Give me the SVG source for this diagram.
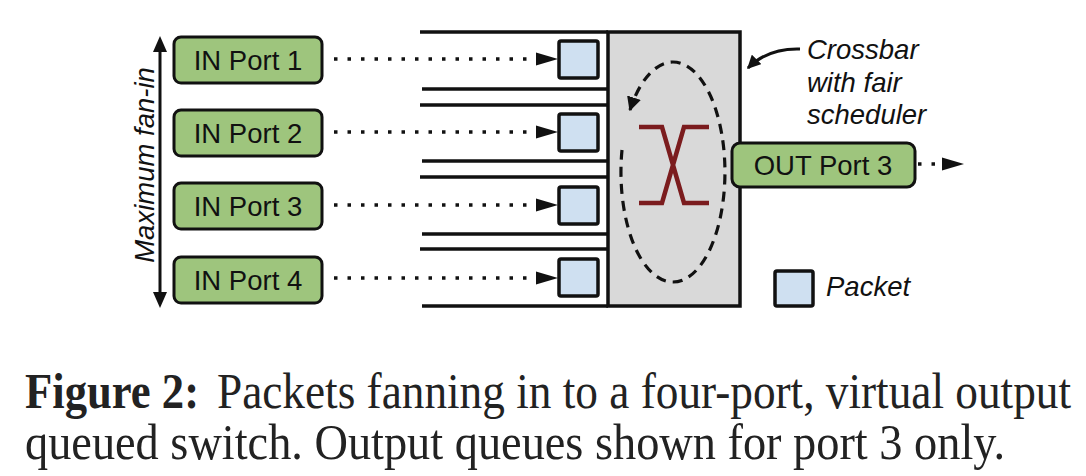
<svg xmlns="http://www.w3.org/2000/svg" width="1086" height="476" viewBox="0 0 1086 476">
<defs>
<style>
.port{fill:#9ec57d;stroke:#111;stroke-width:3}
.pkt{fill:#cfe0f1;stroke:#111;stroke-width:3.5}
.lbl{font-family:"Liberation Sans",Arial,sans-serif;font-size:27.5px;fill:#111}
.it{font-style:italic}
.wall{stroke:#111;stroke-width:3.5;fill:none}
.dot{stroke:#111;stroke-width:3.5;stroke-dasharray:3.5 10;fill:none}
.head{fill:#111}
.cap{font-family:"Liberation Serif","Times New Roman",serif;font-size:50px;fill:#222}
</style>
<marker id="ah" viewBox="0 0 10 10" refX="9" refY="5" markerWidth="4.5" markerHeight="4.5" orient="auto" markerUnits="strokeWidth">
<path d="M0,0 L10,5 L0,10 z" fill="#111"/>
</marker>
</defs>
<rect width="1086" height="476" fill="#fff"/>

<g id="fanin">
<line x1="160" y1="44" x2="160" y2="300" stroke="#111" stroke-width="3"/>
<path d="M160,36 L153,52 L167,52 z" fill="#111"/>
<path d="M160,308 L153,292 L167,292 z" fill="#111"/>
<text class="lbl it" text-anchor="middle" transform="translate(154,165) rotate(-90)">Maximum fan-in</text>
</g>

<g id="in-port-1"><rect class="port" x="174" y="37" width="148" height="46" rx="7"/><text class="lbl" x="248" y="69.5" text-anchor="middle">IN Port 1</text></g>
<g id="in-port-2"><rect class="port" x="174" y="110" width="148" height="46" rx="7"/><text class="lbl" x="248" y="142.5" text-anchor="middle">IN Port 2</text></g>
<g id="in-port-3"><rect class="port" x="174" y="183" width="148" height="46" rx="7"/><text class="lbl" x="248" y="216" text-anchor="middle">IN Port 3</text></g>
<g id="in-port-4"><rect class="port" x="174" y="257" width="148" height="46" rx="7"/><text class="lbl" x="248" y="289.5" text-anchor="middle">IN Port 4</text></g>

<g id="crossbar">
<rect x="608" y="32" width="132" height="274" fill="#d9d9d9" stroke="#111" stroke-width="3.5"/>
<path d="M639,127 H662 L684,203 H709 M709,127 H684 L662,203 H639" fill="none" stroke="#7b1c1e" stroke-width="4.5"/>
<path d="M622,150 A52,110 0 1 0 630,110" fill="none" stroke="#111" stroke-width="3.2" stroke-dasharray="10 7" marker-end="url(#ah)"/>
</g>

<g id="queues">
<line class="wall" x1="420" y1="32" x2="608" y2="32"/>
<line class="wall" x1="422" y1="89" x2="608" y2="89"/>
<line class="wall" x1="420" y1="105" x2="608" y2="105"/>
<line class="wall" x1="422" y1="161" x2="608" y2="161"/>
<line class="wall" x1="420" y1="177" x2="608" y2="177"/>
<line class="wall" x1="422" y1="234" x2="608" y2="234"/>
<line class="wall" x1="420" y1="249" x2="608" y2="249"/>
<line class="wall" x1="422" y1="306" x2="608" y2="306"/>
<rect class="pkt" x="559" y="41" width="39" height="37" rx="2"/>
<rect class="pkt" x="559" y="114" width="39" height="37" rx="2"/>
<rect class="pkt" x="559" y="187" width="39" height="37" rx="2"/>
<rect class="pkt" x="559" y="259" width="39" height="37" rx="2"/>
</g>

<g id="out-port-3"><rect class="port" x="732" y="143" width="183" height="44" rx="8"/><text class="lbl" x="823" y="175" text-anchor="middle">OUT Port 3</text></g>

<g id="connectors">
<line class="dot" x1="334" y1="59" x2="537" y2="59"/><path class="head" d="M536,52.5 L558,59 L536,65.5 z"/>
<line class="dot" x1="334" y1="132" x2="537" y2="132"/><path class="head" d="M536,125.5 L558,132 L536,138.5 z"/>
<line class="dot" x1="334" y1="205" x2="537" y2="205"/><path class="head" d="M536,198.5 L558,205 L536,211.5 z"/>
<line class="dot" x1="334" y1="278" x2="537" y2="278"/><path class="head" d="M536,271.5 L558,278 L536,284.5 z"/>
<line class="dot" x1="918" y1="164" x2="940" y2="164"/><path class="head" d="M942,157.5 L964,164 L942,170.5 z"/>
<path d="M800,49 Q768,48 748,68" fill="none" stroke="#111" stroke-width="3" marker-end="url(#ah)"/>
</g>

<g id="crossbar-label">
<text class="lbl it" x="807" y="59">Crossbar</text>
<text class="lbl it" x="807" y="92">with fair</text>
<text class="lbl it" x="807" y="124">scheduler</text>
</g>

<g id="legend">
<rect class="pkt" x="775" y="271" width="38" height="35" rx="2"/>
<text class="lbl it" x="826" y="296">Packet</text>
</g>

<g id="caption">
<text class="cap" x="25" y="408" font-weight="bold" textLength="174" lengthAdjust="spacingAndGlyphs">Figure 2:</text>
<text class="cap" x="217" y="408" textLength="854" lengthAdjust="spacingAndGlyphs">Packets fanning in to a four-port, virtual output</text>
<text class="cap" x="25" y="459" textLength="980" lengthAdjust="spacingAndGlyphs">queued switch. Output queues shown for port 3 only.</text>
</g>
</svg>
